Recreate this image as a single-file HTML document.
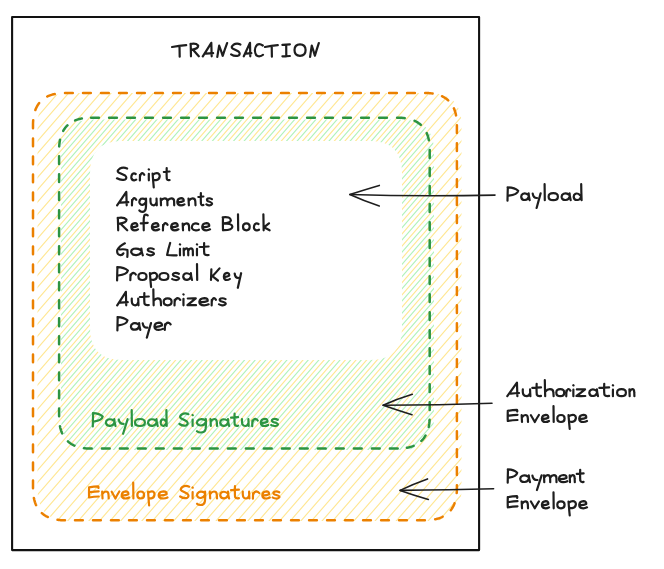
<!DOCTYPE html>
<html><head><meta charset="utf-8"><style>
html,body{margin:0;padding:0;background:#fff;}
svg{display:block;}
text{font-family:"Liberation Sans",sans-serif;font-size:20px;}
</style></head><body>
<svg width="664" height="569" viewBox="0 0 664 569">
<defs>
<clipPath id="co"><path d="M69.5 93 L429.5 93 Q461.5 93 461.5 125 L461.5 489 Q461.5 521 429.5 521 L69.5 521 Q37.5 521 37.5 489 L37.5 125 Q37.5 93 69.5 93Z"/></clipPath>
<clipPath id="cg"><path d="M93 119.5 L402 119.5 Q434 119.5 434 151.5 L434 418.0 Q434 450.0 402 450.0 L93 450.0 Q61 450.0 61 418.0 L61 151.5 Q61 119.5 93 119.5Z"/></clipPath>
</defs>
<rect width="664" height="569" fill="#fff"/>
<path d="M-1251.10 1562.46L1373.14 -1456.38M-1245.06 1567.71L1379.17 -1451.13M-1239.02 1572.96L1385.21 -1445.88M-1232.99 1578.21L1391.25 -1440.63M-1226.95 1583.46L1397.29 -1435.38M-1220.91 1588.70L1403.32 -1430.13M-1214.87 1593.95L1409.36 -1424.89M-1208.84 1599.20L1415.40 -1419.64M-1202.80 1604.45L1421.44 -1414.39M-1196.76 1609.70L1427.48 -1409.14M-1190.72 1614.95L1433.51 -1403.89M-1184.69 1620.19L1439.55 -1398.64M-1178.65 1625.44L1445.59 -1393.40M-1172.61 1630.69L1451.63 -1388.15M-1166.57 1635.94L1457.66 -1382.90M-1160.53 1641.19L1463.70 -1377.65M-1154.50 1646.44L1469.74 -1372.40M-1148.46 1651.69L1475.78 -1367.15M-1142.42 1656.93L1481.81 -1361.90M-1136.38 1662.18L1487.85 -1356.66M-1130.35 1667.43L1493.89 -1351.41M-1124.31 1672.68L1499.93 -1346.16M-1118.27 1677.93L1505.97 -1340.91M-1112.23 1683.18L1512.00 -1335.66M-1106.20 1688.42L1518.04 -1330.41M-1100.16 1693.67L1524.08 -1325.16M-1094.12 1698.92L1530.12 -1319.92M-1088.08 1704.17L1536.15 -1314.67M-1082.04 1709.42L1542.19 -1309.42M-1076.01 1714.67L1548.23 -1304.17M-1069.97 1719.92L1554.27 -1298.92M-1063.93 1725.16L1560.30 -1293.67M-1057.89 1730.41L1566.34 -1288.43M-1051.86 1735.66L1572.38 -1283.18M-1045.82 1740.91L1578.42 -1277.93M-1039.78 1746.16L1584.46 -1272.68M-1033.74 1751.41L1590.49 -1267.43M-1027.71 1756.66L1596.53 -1262.18M-1021.67 1761.90L1602.57 -1256.93M-1015.63 1767.15L1608.61 -1251.69M-1009.59 1772.40L1614.64 -1246.44M-1003.56 1777.65L1620.68 -1241.19M-997.52 1782.90L1626.72 -1235.94M-991.48 1788.15L1632.76 -1230.69M-985.44 1793.39L1638.79 -1225.44M-979.40 1798.64L1644.83 -1220.20M-973.37 1803.89L1650.87 -1214.95M-967.33 1809.14L1656.91 -1209.70M-961.29 1814.39L1662.94 -1204.45M-955.25 1819.64L1668.98 -1199.20M-949.22 1824.89L1675.02 -1193.95M-943.18 1830.13L1681.06 -1188.70M-937.14 1835.38L1687.10 -1183.46M-931.10 1840.63L1693.13 -1178.21M-925.07 1845.88L1699.17 -1172.96M-919.03 1851.13L1705.21 -1167.71M-912.99 1856.38L1711.25 -1162.46M-906.95 1861.62L1717.28 -1157.21M-900.91 1866.87L1723.32 -1151.97M-894.88 1872.12L1729.36 -1146.72M-888.84 1877.37L1735.40 -1141.47M-882.80 1882.62L1741.43 -1136.22M-876.76 1887.87L1747.47 -1130.97M-870.73 1893.12L1753.51 -1125.72M-864.69 1898.36L1759.55 -1120.47M-858.65 1903.61L1765.59 -1115.23M-852.61 1908.86L1771.62 -1109.98M-846.58 1914.11L1777.66 -1104.73M-840.54 1919.36L1783.70 -1099.48M-834.50 1924.61L1789.74 -1094.23M-828.46 1929.85L1795.77 -1088.98M-822.42 1935.10L1801.81 -1083.74M-816.39 1940.35L1807.85 -1078.49M-810.35 1945.60L1813.89 -1073.24M-804.31 1950.85L1819.92 -1067.99M-798.27 1956.10L1825.96 -1062.74M-792.24 1961.35L1832.00 -1057.49M-786.20 1966.59L1838.04 -1052.24" clip-path="url(#co)" stroke="#ffe794" stroke-width="1.15" fill="none"/>
<path d="M-1223.97 1586.05L1400.27 -1432.79M-1217.93 1591.30L1406.31 -1427.54M-1211.89 1596.54L1412.34 -1422.29M-1205.85 1601.79L1418.38 -1417.05M-1199.82 1607.04L1424.42 -1411.80M-1193.78 1612.29L1430.46 -1406.55M-1187.74 1617.54L1436.49 -1401.30M-1181.70 1622.79L1442.53 -1396.05M-1175.67 1628.03L1448.57 -1390.80M-1169.63 1633.28L1454.61 -1385.56M-1163.59 1638.53L1460.64 -1380.31M-1157.55 1643.78L1466.68 -1375.06M-1151.52 1649.03L1472.72 -1369.81M-1145.48 1654.28L1478.76 -1364.56M-1139.44 1659.53L1484.80 -1359.31M-1133.40 1664.77L1490.83 -1354.06M-1127.37 1670.02L1496.87 -1348.82M-1121.33 1675.27L1502.91 -1343.57M-1115.29 1680.52L1508.95 -1338.32M-1109.25 1685.77L1514.98 -1333.07M-1103.21 1691.02L1521.02 -1327.82M-1097.18 1696.26L1527.06 -1322.57M-1091.14 1701.51L1533.10 -1317.33M-1085.10 1706.76L1539.13 -1312.08M-1079.06 1712.01L1545.17 -1306.83M-1073.03 1717.26L1551.21 -1301.58M-1066.99 1722.51L1557.25 -1296.33M-1060.95 1727.76L1563.29 -1291.08M-1054.91 1733.00L1569.32 -1285.83M-1048.88 1738.25L1575.36 -1280.59M-1042.84 1743.50L1581.40 -1275.34M-1036.80 1748.75L1587.44 -1270.09M-1030.76 1754.00L1593.47 -1264.84M-1024.72 1759.25L1599.51 -1259.59M-1018.69 1764.49L1605.55 -1254.34M-1012.65 1769.74L1611.59 -1249.09M-1006.61 1774.99L1617.62 -1243.85M-1000.57 1780.24L1623.66 -1238.60M-994.54 1785.49L1629.70 -1233.35M-988.50 1790.74L1635.74 -1228.10M-982.46 1795.99L1641.78 -1222.85M-976.42 1801.23L1647.81 -1217.60M-970.39 1806.48L1653.85 -1212.36M-964.35 1811.73L1659.89 -1207.11M-958.31 1816.98L1665.93 -1201.86M-952.27 1822.23L1671.96 -1196.61M-946.23 1827.48L1678.00 -1191.36M-940.20 1832.73L1684.04 -1186.11M-934.16 1837.97L1690.08 -1180.86M-928.12 1843.22L1696.11 -1175.62M-922.08 1848.47L1702.15 -1170.37M-916.05 1853.72L1708.19 -1165.12M-910.01 1858.97L1714.23 -1159.87M-903.97 1864.22L1720.26 -1154.62M-897.93 1869.46L1726.30 -1149.37M-891.90 1874.71L1732.34 -1144.13M-885.86 1879.96L1738.38 -1138.88M-879.82 1885.21L1744.42 -1133.63M-873.78 1890.46L1750.45 -1128.38M-867.75 1895.71L1756.49 -1123.13M-861.71 1900.96L1762.53 -1117.88M-855.67 1906.20L1768.57 -1112.63M-849.63 1911.45L1774.60 -1107.39M-843.59 1916.70L1780.64 -1102.14M-837.56 1921.95L1786.68 -1096.89M-831.52 1927.20L1792.72 -1091.64" clip-path="url(#cg)" stroke="#b2f2bb" stroke-width="1.15" fill="none"/>
<path d="M122 141 L370 141 Q402 141 402 173 L402 328 Q402 360 370 360 L122 360 Q90 360 90 328 L90 173 Q90 141 122 141Z" fill="#fff"/>
<path d="M65.00 93.00 L65.60 93.00 L66.20 93.00 L66.80 93.00 L67.40 93.00 L68.00 93.00 L68.60 93.00 L69.20 93.00 L69.80 93.00 L70.40 93.00 L71.00 93.00 L71.60 93.00 L72.20 93.00 L72.80 93.00 L72.80 93.00M83.01 93.00 L83.61 93.00 L84.21 93.00 L84.81 93.00 L85.41 93.00 L86.01 93.00 L86.61 93.00 L87.21 93.00 L87.81 93.00 L88.41 93.00 L89.01 93.00 L89.61 93.00 L90.21 93.00 L90.81 93.00 L90.81 93.00M101.01 93.00 L101.61 93.00 L102.21 93.00 L102.81 93.00 L103.41 93.00 L104.01 93.00 L104.61 93.00 L105.21 93.00 L105.81 93.00 L106.41 93.00 L107.01 93.00 L107.61 93.00 L108.21 93.00 L108.81 93.00 L108.81 93.00M119.02 93.00 L119.62 93.00 L120.22 93.00 L120.82 93.00 L121.42 93.00 L122.02 93.00 L122.62 93.00 L123.22 93.00 L123.82 93.00 L124.42 93.00 L125.02 93.00 L125.62 93.00 L126.22 93.00 L126.82 93.00 L126.82 93.00M137.02 93.00 L137.62 93.00 L138.22 93.00 L138.82 93.00 L139.42 93.00 L140.02 93.00 L140.62 93.00 L141.22 93.00 L141.82 93.00 L142.42 93.00 L143.02 93.00 L143.62 93.00 L144.22 93.00 L144.82 93.00 L144.82 93.00M155.03 93.00 L155.63 93.00 L156.23 93.00 L156.83 93.00 L157.43 93.00 L158.03 93.00 L158.63 93.00 L159.23 93.00 L159.83 93.00 L160.43 93.00 L161.03 93.00 L161.63 93.00 L162.23 93.00 L162.83 93.00 L162.83 93.00M173.03 93.00 L173.63 93.00 L174.23 93.00 L174.83 93.00 L175.43 93.00 L176.03 93.00 L176.63 93.00 L177.23 93.00 L177.83 93.00 L178.43 93.00 L179.03 93.00 L179.63 93.00 L180.23 93.00 L180.83 93.00 L180.83 93.00M191.04 93.00 L191.64 93.00 L192.24 93.00 L192.84 93.00 L193.44 93.00 L194.04 93.00 L194.64 93.00 L195.24 93.00 L195.84 93.00 L196.44 93.00 L197.04 93.00 L197.64 93.00 L198.24 93.00 L198.84 93.00 L198.84 93.00M209.04 93.00 L209.64 93.00 L210.24 93.00 L210.84 93.00 L211.44 93.00 L212.04 93.00 L212.64 93.00 L213.24 93.00 L213.84 93.00 L214.44 93.00 L215.04 93.00 L215.64 93.00 L216.24 93.00 L216.84 93.00 L216.84 93.00M227.05 93.00 L227.65 93.00 L228.25 93.00 L228.85 93.00 L229.45 93.00 L230.05 93.00 L230.65 93.00 L231.25 93.00 L231.85 93.00 L232.45 93.00 L233.05 93.00 L233.65 93.00 L234.25 93.00 L234.85 93.00 L234.85 93.00M245.05 93.00 L245.65 93.00 L246.25 93.00 L246.85 93.00 L247.45 93.00 L248.05 93.00 L248.65 93.00 L249.25 93.00 L249.85 93.00 L250.45 93.00 L251.05 93.00 L251.65 93.00 L252.25 93.00 L252.85 93.00 L252.85 93.00M263.06 93.00 L263.66 93.00 L264.26 93.00 L264.86 93.00 L265.46 93.00 L266.06 93.00 L266.66 93.00 L267.26 93.00 L267.86 93.00 L268.46 93.00 L269.06 93.00 L269.66 93.00 L270.26 93.00 L270.86 93.00 L270.86 93.00M281.06 93.00 L281.66 93.00 L282.26 93.00 L282.86 93.00 L283.46 93.00 L284.06 93.00 L284.66 93.00 L285.26 93.00 L285.86 93.00 L286.46 93.00 L287.06 93.00 L287.66 93.00 L288.26 93.00 L288.86 93.00 L288.86 93.00M299.07 93.00 L299.67 93.00 L300.27 93.00 L300.87 93.00 L301.47 93.00 L302.07 93.00 L302.67 93.00 L303.27 93.00 L303.87 93.00 L304.47 93.00 L305.07 93.00 L305.67 93.00 L306.27 93.00 L306.87 93.00 L306.87 93.00M317.07 93.00 L317.67 93.00 L318.27 93.00 L318.87 93.00 L319.47 93.00 L320.07 93.00 L320.67 93.00 L321.27 93.00 L321.87 93.00 L322.47 93.00 L323.07 93.00 L323.67 93.00 L324.27 93.00 L324.87 93.00 L324.87 93.00M335.08 93.00 L335.68 93.00 L336.28 93.00 L336.88 93.00 L337.48 93.00 L338.08 93.00 L338.68 93.00 L339.28 93.00 L339.88 93.00 L340.48 93.00 L341.08 93.00 L341.68 93.00 L342.28 93.00 L342.88 93.00 L342.88 93.00M353.08 93.00 L353.68 93.00 L354.28 93.00 L354.88 93.00 L355.48 93.00 L356.08 93.00 L356.68 93.00 L357.28 93.00 L357.88 93.00 L358.48 93.00 L359.08 93.00 L359.68 93.00 L360.28 93.00 L360.88 93.00 L360.88 93.00M371.09 93.00 L371.69 93.00 L372.29 93.00 L372.89 93.00 L373.49 93.00 L374.09 93.00 L374.69 93.00 L375.29 93.00 L375.89 93.00 L376.49 93.00 L377.09 93.00 L377.69 93.00 L378.29 93.00 L378.89 93.00 L378.89 93.00M389.09 93.00 L389.69 93.00 L390.29 93.00 L390.89 93.00 L391.49 93.00 L392.09 93.00 L392.69 93.00 L393.29 93.00 L393.89 93.00 L394.49 93.00 L395.09 93.00 L395.69 93.00 L396.29 93.00 L396.89 93.00 L396.89 93.00M407.10 93.00 L407.70 93.00 L408.30 93.00 L408.90 93.00 L409.50 93.00 L410.10 93.00 L410.70 93.00 L411.30 93.00 L411.90 93.00 L412.50 93.00 L413.10 93.00 L413.70 93.00 L414.30 93.00 L414.90 93.00 L414.90 93.00M425.15 93.00 L425.89 93.01 L426.62 93.03 L427.35 93.05 L428.07 93.08 L428.77 93.12 L429.47 93.18 L430.16 93.24 L430.84 93.31 L431.52 93.38 L432.18 93.47 L432.62 93.53M442.00 96.23 L442.68 96.56 L443.33 96.90 L443.98 97.26 L444.61 97.63 L445.22 98.02 L445.81 98.42 L446.39 98.84 L446.96 99.27 L447.51 99.72 L448.04 100.19 L448.22 100.35M453.88 108.36 L454.18 109.06 L454.46 109.77 L454.73 110.51 L454.98 111.25 L455.20 111.95 L455.37 112.53 L455.53 113.12 L455.68 113.72 L455.82 114.33 L455.95 114.95 L456.04 115.36M456.90 125.20 L456.90 125.80 L456.90 126.40 L456.90 127.00 L456.90 127.60 L456.90 128.20 L456.90 128.80 L456.90 129.40 L456.90 130.00 L456.90 130.60 L456.90 131.20 L456.90 131.80 L456.90 132.40 L456.90 133.00 L456.90 133.00M456.90 143.21 L456.90 143.81 L456.90 144.41 L456.90 145.01 L456.90 145.61 L456.90 146.21 L456.90 146.81 L456.90 147.41 L456.90 148.01 L456.90 148.61 L456.90 149.21 L456.90 149.81 L456.90 150.41 L456.90 151.01 L456.90 151.01M456.90 161.21 L456.90 161.81 L456.90 162.41 L456.90 163.01 L456.90 163.61 L456.90 164.21 L456.90 164.81 L456.90 165.41 L456.90 166.01 L456.90 166.61 L456.90 167.21 L456.90 167.81 L456.90 168.41 L456.90 169.01 L456.90 169.01M456.90 179.21 L456.90 179.82 L456.90 180.42 L456.90 181.02 L456.90 181.62 L456.90 182.22 L456.90 182.82 L456.90 183.42 L456.90 184.02 L456.90 184.62 L456.90 185.22 L456.90 185.82 L456.90 186.42 L456.90 187.02 L456.90 187.02M456.90 197.22 L456.90 197.82 L456.90 198.42 L456.90 199.02 L456.90 199.62 L456.90 200.22 L456.90 200.82 L456.90 201.42 L456.90 202.02 L456.90 202.62 L456.90 203.22 L456.90 203.82 L456.90 204.42 L456.90 205.02 L456.90 205.02M456.90 215.22 L456.90 215.82 L456.90 216.43 L456.90 217.03 L456.90 217.63 L456.90 218.23 L456.90 218.83 L456.90 219.43 L456.90 220.03 L456.90 220.63 L456.90 221.23 L456.90 221.83 L456.90 222.43 L456.90 223.03 L456.90 223.03M456.90 233.23 L456.90 233.83 L456.90 234.43 L456.90 235.03 L456.90 235.63 L456.90 236.23 L456.90 236.83 L456.90 237.43 L456.90 238.03 L456.90 238.63 L456.90 239.23 L456.90 239.83 L456.90 240.43 L456.90 241.03 L456.90 241.03M456.90 251.23 L456.90 251.83 L456.90 252.44 L456.90 253.04 L456.90 253.64 L456.90 254.24 L456.90 254.84 L456.90 255.44 L456.90 256.04 L456.90 256.64 L456.90 257.24 L456.90 257.84 L456.90 258.44 L456.90 259.04 L456.90 259.04M456.90 269.24 L456.90 269.84 L456.90 270.44 L456.90 271.04 L456.90 271.64 L456.90 272.24 L456.90 272.84 L456.90 273.44 L456.90 274.04 L456.90 274.64 L456.90 275.24 L456.90 275.84 L456.90 276.44 L456.90 277.04 L456.90 277.04M456.90 287.24 L456.90 287.84 L456.90 288.44 L456.90 289.05 L456.90 289.65 L456.90 290.25 L456.90 290.85 L456.90 291.45 L456.90 292.05 L456.90 292.65 L456.90 293.25 L456.90 293.85 L456.90 294.45 L456.90 295.05 L456.90 295.05M456.90 305.25 L456.90 305.85 L456.90 306.45 L456.90 307.05 L456.90 307.65 L456.90 308.25 L456.90 308.85 L456.90 309.45 L456.90 310.05 L456.90 310.65 L456.90 311.25 L456.90 311.85 L456.90 312.45 L456.90 313.05 L456.90 313.05M456.90 323.25 L456.90 323.85 L456.90 324.45 L456.90 325.06 L456.90 325.66 L456.90 326.26 L456.90 326.86 L456.90 327.46 L456.90 328.06 L456.90 328.66 L456.90 329.26 L456.90 329.86 L456.90 330.46 L456.90 331.06 L456.90 331.06M456.90 341.26 L456.90 341.86 L456.90 342.46 L456.90 343.06 L456.90 343.66 L456.90 344.26 L456.90 344.86 L456.90 345.46 L456.90 346.06 L456.90 346.66 L456.90 347.26 L456.90 347.86 L456.90 348.46 L456.90 349.06 L456.90 349.06M456.90 359.26 L456.90 359.86 L456.90 360.46 L456.90 361.06 L456.90 361.67 L456.90 362.27 L456.90 362.87 L456.90 363.47 L456.90 364.07 L456.90 364.67 L456.90 365.27 L456.90 365.87 L456.90 366.47 L456.90 367.07 L456.90 367.07M456.90 377.27 L456.90 377.87 L456.90 378.47 L456.90 379.07 L456.90 379.67 L456.90 380.27 L456.90 380.87 L456.90 381.47 L456.90 382.07 L456.90 382.67 L456.90 383.27 L456.90 383.87 L456.90 384.47 L456.90 385.07 L456.90 385.07M456.90 395.27 L456.90 395.87 L456.90 396.47 L456.90 397.07 L456.90 397.68 L456.90 398.28 L456.90 398.88 L456.90 399.48 L456.90 400.08 L456.90 400.68 L456.90 401.28 L456.90 401.88 L456.90 402.48 L456.90 403.08 L456.90 403.08M456.90 413.28 L456.90 413.88 L456.90 414.48 L456.90 415.08 L456.90 415.68 L456.90 416.28 L456.90 416.88 L456.90 417.48 L456.90 418.08 L456.90 418.68 L456.90 419.28 L456.90 419.88 L456.90 420.48 L456.90 421.08 L456.90 421.08M456.90 431.28 L456.90 431.88 L456.90 432.48 L456.90 433.08 L456.90 433.68 L456.90 434.29 L456.90 434.89 L456.90 435.49 L456.90 436.09 L456.90 436.69 L456.90 437.29 L456.90 437.89 L456.90 438.49 L456.90 439.09 L456.90 439.09M456.90 449.29 L456.90 449.89 L456.90 450.49 L456.90 451.09 L456.90 451.69 L456.90 452.29 L456.90 452.89 L456.90 453.49 L456.90 454.09 L456.90 454.69 L456.90 455.29 L456.90 455.89 L456.90 456.49 L456.90 457.09 L456.90 457.09M456.90 467.29 L456.90 467.89 L456.90 468.49 L456.90 469.09 L456.90 469.69 L456.90 470.30 L456.90 470.90 L456.90 471.50 L456.90 472.10 L456.90 472.70 L456.90 473.30 L456.90 473.90 L456.90 474.50 L456.90 475.10 L456.90 475.10M456.90 485.30 L456.90 485.90 L456.90 486.50 L456.90 487.10 L456.90 487.70 L456.90 488.30 L456.89 489.04 L456.88 489.78 L456.86 490.51 L456.83 491.23 L456.79 491.94 L456.74 492.64 L456.70 493.10M454.55 503.28 L454.27 504.01 L453.98 504.71 L453.67 505.40 L453.34 506.08 L453.00 506.73 L452.64 507.38 L452.27 508.01 L451.88 508.62 L451.48 509.21 L451.06 509.79 L450.77 510.17M442.68 516.74 L442.00 517.07 L441.31 517.38 L440.61 517.67 L439.88 517.95 L439.15 518.21 L438.39 518.46 L437.76 518.66 L437.17 518.82 L436.58 518.98 L435.98 519.13 L435.36 519.26 L435.16 519.31M424.90 520.30 L424.30 520.30 L423.70 520.30 L423.10 520.30 L422.50 520.30 L421.90 520.30 L421.30 520.30 L420.70 520.30 L420.10 520.30 L419.50 520.30 L418.90 520.30 L418.30 520.30 L417.70 520.30 L417.10 520.30 L417.10 520.30M406.89 520.30 L406.29 520.30 L405.69 520.30 L405.09 520.30 L404.49 520.30 L403.89 520.30 L403.29 520.30 L402.69 520.30 L402.09 520.30 L401.49 520.30 L400.89 520.30 L400.29 520.30 L399.69 520.30 L399.09 520.30 L399.09 520.30M388.89 520.30 L388.29 520.30 L387.69 520.30 L387.09 520.30 L386.49 520.30 L385.89 520.30 L385.29 520.30 L384.69 520.30 L384.09 520.30 L383.49 520.30 L382.89 520.30 L382.29 520.30 L381.69 520.30 L381.09 520.30 L381.09 520.30M370.88 520.30 L370.28 520.30 L369.68 520.30 L369.08 520.30 L368.48 520.30 L367.88 520.30 L367.28 520.30 L366.68 520.30 L366.08 520.30 L365.48 520.30 L364.88 520.30 L364.28 520.30 L363.68 520.30 L363.08 520.30 L363.08 520.30M352.88 520.30 L352.28 520.30 L351.68 520.30 L351.08 520.30 L350.48 520.30 L349.88 520.30 L349.28 520.30 L348.68 520.30 L348.08 520.30 L347.48 520.30 L346.88 520.30 L346.28 520.30 L345.68 520.30 L345.08 520.30 L345.08 520.30M334.87 520.30 L334.27 520.30 L333.67 520.30 L333.07 520.30 L332.47 520.30 L331.87 520.30 L331.27 520.30 L330.67 520.30 L330.07 520.30 L329.47 520.30 L328.87 520.30 L328.27 520.30 L327.67 520.30 L327.07 520.30 L327.07 520.30M316.87 520.30 L316.27 520.30 L315.67 520.30 L315.07 520.30 L314.47 520.30 L313.87 520.30 L313.27 520.30 L312.67 520.30 L312.07 520.30 L311.47 520.30 L310.87 520.30 L310.27 520.30 L309.67 520.30 L309.07 520.30 L309.07 520.30M298.86 520.30 L298.26 520.30 L297.66 520.30 L297.06 520.30 L296.46 520.30 L295.86 520.30 L295.26 520.30 L294.66 520.30 L294.06 520.30 L293.46 520.30 L292.86 520.30 L292.26 520.30 L291.66 520.30 L291.06 520.30 L291.06 520.30M280.86 520.30 L280.26 520.30 L279.66 520.30 L279.06 520.30 L278.46 520.30 L277.86 520.30 L277.26 520.30 L276.66 520.30 L276.06 520.30 L275.46 520.30 L274.86 520.30 L274.26 520.30 L273.66 520.30 L273.06 520.30 L273.06 520.30M262.85 520.30 L262.25 520.30 L261.65 520.30 L261.05 520.30 L260.45 520.30 L259.85 520.30 L259.25 520.30 L258.65 520.30 L258.05 520.30 L257.45 520.30 L256.85 520.30 L256.25 520.30 L255.65 520.30 L255.05 520.30 L255.05 520.30M244.85 520.30 L244.25 520.30 L243.65 520.30 L243.05 520.30 L242.45 520.30 L241.85 520.30 L241.25 520.30 L240.65 520.30 L240.05 520.30 L239.45 520.30 L238.85 520.30 L238.25 520.30 L237.65 520.30 L237.05 520.30 L237.05 520.30M226.84 520.30 L226.24 520.30 L225.64 520.30 L225.04 520.30 L224.44 520.30 L223.84 520.30 L223.24 520.30 L222.64 520.30 L222.04 520.30 L221.44 520.30 L220.84 520.30 L220.24 520.30 L219.64 520.30 L219.04 520.30 L219.04 520.30M208.84 520.30 L208.24 520.30 L207.64 520.30 L207.04 520.30 L206.44 520.30 L205.84 520.30 L205.24 520.30 L204.64 520.30 L204.04 520.30 L203.44 520.30 L202.84 520.30 L202.24 520.30 L201.64 520.30 L201.04 520.30 L201.04 520.30M190.83 520.30 L190.23 520.30 L189.63 520.30 L189.03 520.30 L188.43 520.30 L187.83 520.30 L187.23 520.30 L186.63 520.30 L186.03 520.30 L185.43 520.30 L184.83 520.30 L184.23 520.30 L183.63 520.30 L183.03 520.30 L183.03 520.30M172.83 520.30 L172.23 520.30 L171.63 520.30 L171.03 520.30 L170.43 520.30 L169.83 520.30 L169.23 520.30 L168.63 520.30 L168.03 520.30 L167.43 520.30 L166.83 520.30 L166.23 520.30 L165.63 520.30 L165.03 520.30 L165.03 520.30M154.82 520.30 L154.22 520.30 L153.62 520.30 L153.02 520.30 L152.42 520.30 L151.82 520.30 L151.22 520.30 L150.62 520.30 L150.02 520.30 L149.42 520.30 L148.82 520.30 L148.22 520.30 L147.62 520.30 L147.02 520.30 L147.02 520.30M136.82 520.30 L136.22 520.30 L135.62 520.30 L135.02 520.30 L134.42 520.30 L133.82 520.30 L133.22 520.30 L132.62 520.30 L132.02 520.30 L131.42 520.30 L130.82 520.30 L130.22 520.30 L129.62 520.30 L129.02 520.30 L129.02 520.30M118.81 520.30 L118.21 520.30 L117.61 520.30 L117.01 520.30 L116.41 520.30 L115.81 520.30 L115.21 520.30 L114.61 520.30 L114.01 520.30 L113.41 520.30 L112.81 520.30 L112.21 520.30 L111.61 520.30 L111.01 520.30 L111.01 520.30M100.81 520.30 L100.21 520.30 L99.61 520.30 L99.01 520.30 L98.41 520.30 L97.81 520.30 L97.21 520.30 L96.61 520.30 L96.01 520.30 L95.41 520.30 L94.81 520.30 L94.21 520.30 L93.61 520.30 L93.01 520.30 L93.01 520.30M82.80 520.30 L82.20 520.30 L81.60 520.30 L81.00 520.30 L80.40 520.30 L79.80 520.30 L79.20 520.30 L78.60 520.30 L78.00 520.30 L77.40 520.30 L76.80 520.30 L76.20 520.30 L75.60 520.30 L75.00 520.30 L75.00 520.30M65.00 520.30 L64.26 520.29 L63.52 520.28 L62.79 520.26 L62.07 520.23 L61.36 520.19 L60.66 520.14 L59.97 520.08 L59.28 520.02 L58.61 519.94 L57.94 519.86 L57.50 519.80M47.90 517.07 L47.22 516.74 L46.57 516.40 L45.92 516.04 L45.29 515.67 L44.68 515.28 L44.09 514.88 L43.51 514.46 L42.94 514.03 L42.39 513.58 L41.86 513.11 L41.86 513.11M36.12 505.17 L35.82 504.48 L35.53 503.77 L35.26 503.04 L35.00 502.30 L34.76 501.54 L34.59 500.96 L34.43 500.37 L34.27 499.78 L34.12 499.17 L33.99 498.56 L33.86 497.94 L33.86 497.94M33.00 488.30 L33.00 487.70 L33.00 487.10 L33.00 486.50 L33.00 485.90 L33.00 485.30 L33.00 484.70 L33.00 484.10 L33.00 483.50 L33.00 482.90 L33.00 482.30 L33.00 481.70 L33.00 481.10 L33.00 480.50 L33.00 480.50M33.00 470.30 L33.00 469.69 L33.00 469.09 L33.00 468.49 L33.00 467.89 L33.00 467.29 L33.00 466.69 L33.00 466.09 L33.00 465.49 L33.00 464.89 L33.00 464.29 L33.00 463.69 L33.00 463.09 L33.00 462.49 L33.00 462.49M33.00 452.29 L33.00 451.69 L33.00 451.09 L33.00 450.49 L33.00 449.89 L33.00 449.29 L33.00 448.69 L33.00 448.09 L33.00 447.49 L33.00 446.89 L33.00 446.29 L33.00 445.69 L33.00 445.09 L33.00 444.49 L33.00 444.49M33.00 434.29 L33.00 433.68 L33.00 433.08 L33.00 432.48 L33.00 431.88 L33.00 431.28 L33.00 430.68 L33.00 430.08 L33.00 429.48 L33.00 428.88 L33.00 428.28 L33.00 427.68 L33.00 427.08 L33.00 426.48 L33.00 426.48M33.00 416.28 L33.00 415.68 L33.00 415.08 L33.00 414.48 L33.00 413.88 L33.00 413.28 L33.00 412.68 L33.00 412.08 L33.00 411.48 L33.00 410.88 L33.00 410.28 L33.00 409.68 L33.00 409.08 L33.00 408.48 L33.00 408.48M33.00 398.28 L33.00 397.68 L33.00 397.07 L33.00 396.47 L33.00 395.87 L33.00 395.27 L33.00 394.67 L33.00 394.07 L33.00 393.47 L33.00 392.87 L33.00 392.27 L33.00 391.67 L33.00 391.07 L33.00 390.47 L33.00 390.47M33.00 380.27 L33.00 379.67 L33.00 379.07 L33.00 378.47 L33.00 377.87 L33.00 377.27 L33.00 376.67 L33.00 376.07 L33.00 375.47 L33.00 374.87 L33.00 374.27 L33.00 373.67 L33.00 373.07 L33.00 372.47 L33.00 372.47M33.00 362.27 L33.00 361.67 L33.00 361.06 L33.00 360.46 L33.00 359.86 L33.00 359.26 L33.00 358.66 L33.00 358.06 L33.00 357.46 L33.00 356.86 L33.00 356.26 L33.00 355.66 L33.00 355.06 L33.00 354.46 L33.00 354.46M33.00 344.26 L33.00 343.66 L33.00 343.06 L33.00 342.46 L33.00 341.86 L33.00 341.26 L33.00 340.66 L33.00 340.06 L33.00 339.46 L33.00 338.86 L33.00 338.26 L33.00 337.66 L33.00 337.06 L33.00 336.46 L33.00 336.46M33.00 326.26 L33.00 325.66 L33.00 325.06 L33.00 324.45 L33.00 323.85 L33.00 323.25 L33.00 322.65 L33.00 322.05 L33.00 321.45 L33.00 320.85 L33.00 320.25 L33.00 319.65 L33.00 319.05 L33.00 318.45 L33.00 318.45M33.00 308.25 L33.00 307.65 L33.00 307.05 L33.00 306.45 L33.00 305.85 L33.00 305.25 L33.00 304.65 L33.00 304.05 L33.00 303.45 L33.00 302.85 L33.00 302.25 L33.00 301.65 L33.00 301.05 L33.00 300.45 L33.00 300.45M33.00 290.25 L33.00 289.65 L33.00 289.05 L33.00 288.44 L33.00 287.84 L33.00 287.24 L33.00 286.64 L33.00 286.04 L33.00 285.44 L33.00 284.84 L33.00 284.24 L33.00 283.64 L33.00 283.04 L33.00 282.44 L33.00 282.44M33.00 272.24 L33.00 271.64 L33.00 271.04 L33.00 270.44 L33.00 269.84 L33.00 269.24 L33.00 268.64 L33.00 268.04 L33.00 267.44 L33.00 266.84 L33.00 266.24 L33.00 265.64 L33.00 265.04 L33.00 264.44 L33.00 264.44M33.00 254.24 L33.00 253.64 L33.00 253.04 L33.00 252.44 L33.00 251.83 L33.00 251.23 L33.00 250.63 L33.00 250.03 L33.00 249.43 L33.00 248.83 L33.00 248.23 L33.00 247.63 L33.00 247.03 L33.00 246.43 L33.00 246.43M33.00 236.23 L33.00 235.63 L33.00 235.03 L33.00 234.43 L33.00 233.83 L33.00 233.23 L33.00 232.63 L33.00 232.03 L33.00 231.43 L33.00 230.83 L33.00 230.23 L33.00 229.63 L33.00 229.03 L33.00 228.43 L33.00 228.43M33.00 218.23 L33.00 217.63 L33.00 217.03 L33.00 216.43 L33.00 215.82 L33.00 215.22 L33.00 214.62 L33.00 214.02 L33.00 213.42 L33.00 212.82 L33.00 212.22 L33.00 211.62 L33.00 211.02 L33.00 210.42 L33.00 210.42M33.00 200.22 L33.00 199.62 L33.00 199.02 L33.00 198.42 L33.00 197.82 L33.00 197.22 L33.00 196.62 L33.00 196.02 L33.00 195.42 L33.00 194.82 L33.00 194.22 L33.00 193.62 L33.00 193.02 L33.00 192.42 L33.00 192.42M33.00 182.22 L33.00 181.62 L33.00 181.02 L33.00 180.42 L33.00 179.82 L33.00 179.21 L33.00 178.61 L33.00 178.01 L33.00 177.41 L33.00 176.81 L33.00 176.21 L33.00 175.61 L33.00 175.01 L33.00 174.41 L33.00 174.41M33.00 164.21 L33.00 163.61 L33.00 163.01 L33.00 162.41 L33.00 161.81 L33.00 161.21 L33.00 160.61 L33.00 160.01 L33.00 159.41 L33.00 158.81 L33.00 158.21 L33.00 157.61 L33.00 157.01 L33.00 156.41 L33.00 156.41M33.00 146.21 L33.00 145.61 L33.00 145.01 L33.00 144.41 L33.00 143.81 L33.00 143.21 L33.00 142.60 L33.00 142.00 L33.00 141.40 L33.00 140.80 L33.00 140.20 L33.00 139.60 L33.00 139.00 L33.00 138.40 L33.00 138.40M33.00 128.20 L33.00 127.60 L33.00 127.00 L33.00 126.40 L33.00 125.80 L33.00 125.20 L33.00 124.50 L33.01 123.76 L33.03 123.03 L33.06 122.31 L33.10 121.60 L33.14 120.89 L33.20 120.20 L33.20 120.20M35.35 110.02 L35.63 109.29 L35.92 108.59 L36.23 107.90 L36.56 107.22 L36.90 106.57 L37.26 105.92 L37.63 105.29 L38.02 104.68 L38.42 104.09 L38.84 103.51 L39.12 103.12M47.22 96.56 L47.90 96.23 L48.59 95.92 L49.29 95.63 L50.02 95.35 L50.75 95.09 L51.51 94.84 L52.14 94.64 L52.73 94.48 L53.32 94.32 L53.92 94.17 L54.54 94.04 L54.74 93.99" fill="none" stroke="#eb8000" stroke-width="2.5" stroke-linecap="round" stroke-linejoin="round"/>
<path d="M91.10 117.70 L91.70 117.70 L92.30 117.70 L92.90 117.70 L93.50 117.70 L94.10 117.70 L94.70 117.70 L95.30 117.70 L95.90 117.70 L96.50 117.70 L97.10 117.70 L97.70 117.70 L98.30 117.70 L98.90 117.70 L98.90 117.70M109.10 117.70 L109.70 117.70 L110.30 117.70 L110.90 117.70 L111.50 117.70 L112.10 117.70 L112.70 117.70 L113.30 117.70 L113.90 117.70 L114.50 117.70 L115.10 117.70 L115.70 117.70 L116.30 117.70 L116.90 117.70 L116.90 117.70M127.10 117.70 L127.70 117.70 L128.30 117.70 L128.90 117.70 L129.50 117.70 L130.10 117.70 L130.70 117.70 L131.30 117.70 L131.90 117.70 L132.50 117.70 L133.10 117.70 L133.70 117.70 L134.30 117.70 L134.90 117.70 L134.90 117.70M145.10 117.70 L145.70 117.70 L146.30 117.70 L146.90 117.70 L147.50 117.70 L148.10 117.70 L148.70 117.70 L149.30 117.70 L149.90 117.70 L150.50 117.70 L151.10 117.70 L151.70 117.70 L152.30 117.70 L152.90 117.70 L152.90 117.70M163.10 117.70 L163.70 117.70 L164.30 117.70 L164.90 117.70 L165.50 117.70 L166.10 117.70 L166.70 117.70 L167.30 117.70 L167.90 117.70 L168.50 117.70 L169.10 117.70 L169.70 117.70 L170.30 117.70 L170.90 117.70 L170.90 117.70M181.10 117.70 L181.70 117.70 L182.30 117.70 L182.90 117.70 L183.50 117.70 L184.10 117.70 L184.70 117.70 L185.30 117.70 L185.90 117.70 L186.50 117.70 L187.10 117.70 L187.70 117.70 L188.30 117.70 L188.90 117.70 L188.90 117.70M199.10 117.70 L199.70 117.70 L200.30 117.70 L200.90 117.70 L201.50 117.70 L202.10 117.70 L202.70 117.70 L203.30 117.70 L203.90 117.70 L204.50 117.70 L205.10 117.70 L205.70 117.70 L206.30 117.70 L206.90 117.70 L206.90 117.70M217.10 117.70 L217.70 117.70 L218.30 117.70 L218.90 117.70 L219.50 117.70 L220.10 117.70 L220.70 117.70 L221.30 117.70 L221.90 117.70 L222.50 117.70 L223.10 117.70 L223.70 117.70 L224.30 117.70 L224.90 117.70 L224.90 117.70M235.10 117.70 L235.70 117.70 L236.30 117.70 L236.90 117.70 L237.50 117.70 L238.10 117.70 L238.70 117.70 L239.30 117.70 L239.90 117.70 L240.50 117.70 L241.10 117.70 L241.70 117.70 L242.30 117.70 L242.90 117.70 L242.90 117.70M253.10 117.70 L253.70 117.70 L254.30 117.70 L254.90 117.70 L255.50 117.70 L256.10 117.70 L256.70 117.70 L257.30 117.70 L257.90 117.70 L258.50 117.70 L259.10 117.70 L259.70 117.70 L260.30 117.70 L260.90 117.70 L260.90 117.70M271.10 117.70 L271.70 117.70 L272.30 117.70 L272.90 117.70 L273.50 117.70 L274.10 117.70 L274.70 117.70 L275.30 117.70 L275.90 117.70 L276.50 117.70 L277.10 117.70 L277.70 117.70 L278.30 117.70 L278.90 117.70 L278.90 117.70M289.10 117.70 L289.70 117.70 L290.30 117.70 L290.90 117.70 L291.50 117.70 L292.10 117.70 L292.70 117.70 L293.30 117.70 L293.90 117.70 L294.50 117.70 L295.10 117.70 L295.70 117.70 L296.30 117.70 L296.90 117.70 L296.90 117.70M307.10 117.70 L307.70 117.70 L308.30 117.70 L308.90 117.70 L309.50 117.70 L310.10 117.70 L310.70 117.70 L311.30 117.70 L311.90 117.70 L312.50 117.70 L313.10 117.70 L313.70 117.70 L314.30 117.70 L314.90 117.70 L314.90 117.70M325.10 117.70 L325.70 117.70 L326.30 117.70 L326.90 117.70 L327.50 117.70 L328.10 117.70 L328.70 117.70 L329.30 117.70 L329.90 117.70 L330.50 117.70 L331.10 117.70 L331.70 117.70 L332.30 117.70 L332.90 117.70 L332.90 117.70M343.10 117.70 L343.70 117.70 L344.30 117.70 L344.90 117.70 L345.50 117.70 L346.10 117.70 L346.70 117.70 L347.30 117.70 L347.90 117.70 L348.50 117.70 L349.10 117.70 L349.70 117.70 L350.30 117.70 L350.90 117.70 L350.90 117.70M361.10 117.70 L361.70 117.70 L362.30 117.70 L362.90 117.70 L363.50 117.70 L364.10 117.70 L364.70 117.70 L365.30 117.70 L365.90 117.70 L366.50 117.70 L367.10 117.70 L367.70 117.70 L368.30 117.70 L368.90 117.70 L368.90 117.70M379.10 117.70 L379.70 117.70 L380.30 117.70 L380.90 117.70 L381.50 117.70 L382.10 117.70 L382.70 117.70 L383.30 117.70 L383.90 117.70 L384.50 117.70 L385.10 117.70 L385.70 117.70 L386.30 117.70 L386.90 117.70 L386.90 117.70M397.10 117.70 L397.70 117.70 L398.44 117.71 L399.18 117.72 L399.91 117.74 L400.63 117.77 L401.34 117.81 L402.04 117.86 L402.73 117.92 L403.42 117.98 L404.09 118.06 L404.76 118.14 L404.76 118.14M414.58 120.83 L415.25 121.15 L415.92 121.48 L416.57 121.83 L417.20 122.20 L417.82 122.58 L418.42 122.98 L419.00 123.40 L419.58 123.83 L420.13 124.27 L420.67 124.73 L420.84 124.89M426.68 133.06 L426.98 133.76 L427.26 134.47 L427.53 135.21 L427.78 135.95 L428.00 136.65 L428.17 137.23 L428.33 137.82 L428.48 138.42 L428.62 139.03 L428.75 139.65 L428.88 140.27 L428.88 140.27M429.70 150.10 L429.70 150.70 L429.70 151.30 L429.70 151.90 L429.70 152.50 L429.70 153.10 L429.70 153.70 L429.70 154.30 L429.70 154.90 L429.70 155.50 L429.70 156.10 L429.70 156.70 L429.70 157.30 L429.70 157.90 L429.70 157.90M429.70 168.11 L429.70 168.71 L429.70 169.31 L429.70 169.91 L429.70 170.51 L429.70 171.11 L429.70 171.71 L429.70 172.31 L429.70 172.91 L429.70 173.51 L429.70 174.11 L429.70 174.71 L429.70 175.31 L429.70 175.91 L429.70 175.91M429.70 186.11 L429.70 186.71 L429.70 187.31 L429.70 187.91 L429.70 188.51 L429.70 189.11 L429.70 189.71 L429.70 190.32 L429.70 190.92 L429.70 191.52 L429.70 192.12 L429.70 192.72 L429.70 193.32 L429.70 193.92 L429.70 193.92M429.70 204.12 L429.70 204.72 L429.70 205.32 L429.70 205.92 L429.70 206.52 L429.70 207.12 L429.70 207.72 L429.70 208.32 L429.70 208.92 L429.70 209.52 L429.70 210.12 L429.70 210.72 L429.70 211.32 L429.70 211.92 L429.70 211.92M429.70 222.13 L429.70 222.73 L429.70 223.33 L429.70 223.93 L429.70 224.53 L429.70 225.13 L429.70 225.73 L429.70 226.33 L429.70 226.93 L429.70 227.53 L429.70 228.13 L429.70 228.73 L429.70 229.33 L429.70 229.93 L429.70 229.93M429.70 240.13 L429.70 240.73 L429.70 241.33 L429.70 241.93 L429.70 242.53 L429.70 243.14 L429.70 243.74 L429.70 244.34 L429.70 244.94 L429.70 245.54 L429.70 246.14 L429.70 246.74 L429.70 247.34 L429.70 247.94 L429.70 247.94M429.70 258.14 L429.70 258.74 L429.70 259.34 L429.70 259.94 L429.70 260.54 L429.70 261.14 L429.70 261.74 L429.70 262.34 L429.70 262.94 L429.70 263.54 L429.70 264.14 L429.70 264.74 L429.70 265.34 L429.70 265.94 L429.70 265.94M429.70 276.15 L429.70 276.75 L429.70 277.35 L429.70 277.95 L429.70 278.55 L429.70 279.15 L429.70 279.75 L429.70 280.35 L429.70 280.95 L429.70 281.55 L429.70 282.15 L429.70 282.75 L429.70 283.35 L429.70 283.95 L429.70 283.95M429.70 294.15 L429.70 294.75 L429.70 295.35 L429.70 295.95 L429.70 296.56 L429.70 297.16 L429.70 297.76 L429.70 298.36 L429.70 298.96 L429.70 299.56 L429.70 300.16 L429.70 300.76 L429.70 301.36 L429.70 301.96 L429.70 301.96M429.70 312.16 L429.70 312.76 L429.70 313.36 L429.70 313.96 L429.70 314.56 L429.70 315.16 L429.70 315.76 L429.70 316.36 L429.70 316.96 L429.70 317.56 L429.70 318.16 L429.70 318.76 L429.70 319.36 L429.70 319.96 L429.70 319.96M429.70 330.17 L429.70 330.77 L429.70 331.37 L429.70 331.97 L429.70 332.57 L429.70 333.17 L429.70 333.77 L429.70 334.37 L429.70 334.97 L429.70 335.57 L429.70 336.17 L429.70 336.77 L429.70 337.37 L429.70 337.97 L429.70 337.97M429.70 348.17 L429.70 348.77 L429.70 349.37 L429.70 349.98 L429.70 350.58 L429.70 351.18 L429.70 351.78 L429.70 352.38 L429.70 352.98 L429.70 353.58 L429.70 354.18 L429.70 354.78 L429.70 355.38 L429.70 355.98 L429.70 355.98M429.70 366.18 L429.70 366.78 L429.70 367.38 L429.70 367.98 L429.70 368.58 L429.70 369.18 L429.70 369.78 L429.70 370.38 L429.70 370.98 L429.70 371.58 L429.70 372.18 L429.70 372.78 L429.70 373.38 L429.70 373.98 L429.70 373.98M429.70 384.19 L429.70 384.79 L429.70 385.39 L429.70 385.99 L429.70 386.59 L429.70 387.19 L429.70 387.79 L429.70 388.39 L429.70 388.99 L429.70 389.59 L429.70 390.19 L429.70 390.79 L429.70 391.39 L429.70 391.99 L429.70 391.99M429.70 402.19 L429.70 402.79 L429.70 403.40 L429.70 404.00 L429.70 404.60 L429.70 405.20 L429.70 405.80 L429.70 406.40 L429.70 407.00 L429.70 407.60 L429.70 408.20 L429.70 408.80 L429.70 409.40 L429.70 410.00 L429.70 410.00M429.62 419.77 L429.58 420.47 L429.52 421.17 L429.46 421.86 L429.39 422.54 L429.32 423.22 L429.23 423.88 L429.13 424.53 L429.03 425.18 L428.92 425.82 L428.80 426.45 L428.71 426.86M425.57 435.47 L425.20 436.10 L424.82 436.72 L424.42 437.32 L424.00 437.90 L423.58 438.47 L423.13 439.03 L422.67 439.57 L422.19 440.09 L421.70 440.60 L421.36 440.93M413.64 445.88 L412.93 446.16 L412.19 446.43 L411.45 446.68 L410.75 446.90 L410.17 447.07 L409.58 447.23 L408.98 447.38 L408.37 447.52 L407.75 447.65 L407.13 447.78 L406.92 447.82M397.70 448.60 L397.10 448.60 L396.50 448.60 L395.90 448.60 L395.30 448.60 L394.70 448.60 L394.10 448.60 L393.50 448.60 L392.90 448.60 L392.30 448.60 L391.70 448.60 L391.10 448.60 L390.50 448.60 L389.90 448.60 L389.90 448.60M379.70 448.60 L379.10 448.60 L378.50 448.60 L377.90 448.60 L377.30 448.60 L376.70 448.60 L376.10 448.60 L375.50 448.60 L374.90 448.60 L374.30 448.60 L373.70 448.60 L373.10 448.60 L372.50 448.60 L371.90 448.60 L371.90 448.60M361.70 448.60 L361.10 448.60 L360.50 448.60 L359.90 448.60 L359.30 448.60 L358.70 448.60 L358.10 448.60 L357.50 448.60 L356.90 448.60 L356.30 448.60 L355.70 448.60 L355.10 448.60 L354.50 448.60 L353.90 448.60 L353.90 448.60M343.70 448.60 L343.10 448.60 L342.50 448.60 L341.90 448.60 L341.30 448.60 L340.70 448.60 L340.10 448.60 L339.50 448.60 L338.90 448.60 L338.30 448.60 L337.70 448.60 L337.10 448.60 L336.50 448.60 L335.90 448.60 L335.90 448.60M325.70 448.60 L325.10 448.60 L324.50 448.60 L323.90 448.60 L323.30 448.60 L322.70 448.60 L322.10 448.60 L321.50 448.60 L320.90 448.60 L320.30 448.60 L319.70 448.60 L319.10 448.60 L318.50 448.60 L317.90 448.60 L317.90 448.60M307.70 448.60 L307.10 448.60 L306.50 448.60 L305.90 448.60 L305.30 448.60 L304.70 448.60 L304.10 448.60 L303.50 448.60 L302.90 448.60 L302.30 448.60 L301.70 448.60 L301.10 448.60 L300.50 448.60 L299.90 448.60 L299.90 448.60M289.70 448.60 L289.10 448.60 L288.50 448.60 L287.90 448.60 L287.30 448.60 L286.70 448.60 L286.10 448.60 L285.50 448.60 L284.90 448.60 L284.30 448.60 L283.70 448.60 L283.10 448.60 L282.50 448.60 L281.90 448.60 L281.90 448.60M271.70 448.60 L271.10 448.60 L270.50 448.60 L269.90 448.60 L269.30 448.60 L268.70 448.60 L268.10 448.60 L267.50 448.60 L266.90 448.60 L266.30 448.60 L265.70 448.60 L265.10 448.60 L264.50 448.60 L263.90 448.60 L263.90 448.60M253.70 448.60 L253.10 448.60 L252.50 448.60 L251.90 448.60 L251.30 448.60 L250.70 448.60 L250.10 448.60 L249.50 448.60 L248.90 448.60 L248.30 448.60 L247.70 448.60 L247.10 448.60 L246.50 448.60 L245.90 448.60 L245.90 448.60M235.70 448.60 L235.10 448.60 L234.50 448.60 L233.90 448.60 L233.30 448.60 L232.70 448.60 L232.10 448.60 L231.50 448.60 L230.90 448.60 L230.30 448.60 L229.70 448.60 L229.10 448.60 L228.50 448.60 L227.90 448.60 L227.90 448.60M217.70 448.60 L217.10 448.60 L216.50 448.60 L215.90 448.60 L215.30 448.60 L214.70 448.60 L214.10 448.60 L213.50 448.60 L212.90 448.60 L212.30 448.60 L211.70 448.60 L211.10 448.60 L210.50 448.60 L209.90 448.60 L209.90 448.60M199.70 448.60 L199.10 448.60 L198.50 448.60 L197.90 448.60 L197.30 448.60 L196.70 448.60 L196.10 448.60 L195.50 448.60 L194.90 448.60 L194.30 448.60 L193.70 448.60 L193.10 448.60 L192.50 448.60 L191.90 448.60 L191.90 448.60M181.70 448.60 L181.10 448.60 L180.50 448.60 L179.90 448.60 L179.30 448.60 L178.70 448.60 L178.10 448.60 L177.50 448.60 L176.90 448.60 L176.30 448.60 L175.70 448.60 L175.10 448.60 L174.50 448.60 L173.90 448.60 L173.90 448.60M163.70 448.60 L163.10 448.60 L162.50 448.60 L161.90 448.60 L161.30 448.60 L160.70 448.60 L160.10 448.60 L159.50 448.60 L158.90 448.60 L158.30 448.60 L157.70 448.60 L157.10 448.60 L156.50 448.60 L155.90 448.60 L155.90 448.60M145.70 448.60 L145.10 448.60 L144.50 448.60 L143.90 448.60 L143.30 448.60 L142.70 448.60 L142.10 448.60 L141.50 448.60 L140.90 448.60 L140.30 448.60 L139.70 448.60 L139.10 448.60 L138.50 448.60 L137.90 448.60 L137.90 448.60M127.70 448.60 L127.10 448.60 L126.50 448.60 L125.90 448.60 L125.30 448.60 L124.70 448.60 L124.10 448.60 L123.50 448.60 L122.90 448.60 L122.30 448.60 L121.70 448.60 L121.10 448.60 L120.50 448.60 L119.90 448.60 L119.90 448.60M109.70 448.60 L109.10 448.60 L108.50 448.60 L107.90 448.60 L107.30 448.60 L106.70 448.60 L106.10 448.60 L105.50 448.60 L104.90 448.60 L104.30 448.60 L103.70 448.60 L103.10 448.60 L102.50 448.60 L101.90 448.60 L101.90 448.60M91.70 448.60 L91.10 448.60 L90.36 448.59 L89.62 448.58 L88.89 448.56 L88.17 448.53 L87.46 448.49 L86.76 448.44 L86.07 448.38 L85.38 448.32 L84.71 448.24 L84.04 448.16 L84.04 448.16M74.46 445.58 L73.77 445.26 L73.10 444.93 L72.45 444.58 L71.81 444.22 L71.19 443.84 L70.58 443.45 L69.99 443.04 L69.42 442.62 L68.86 442.18 L68.31 441.72 L67.96 441.41M62.23 433.47 L61.92 432.78 L61.63 432.07 L61.36 431.34 L61.10 430.60 L60.86 429.84 L60.69 429.26 L60.53 428.67 L60.37 428.08 L60.22 427.47 L60.09 426.86 L59.96 426.24 L59.96 426.24M59.10 416.20 L59.10 415.60 L59.10 415.00 L59.10 414.40 L59.10 413.80 L59.10 413.20 L59.10 412.60 L59.10 412.00 L59.10 411.40 L59.10 410.80 L59.10 410.20 L59.10 409.60 L59.10 409.00 L59.10 408.40 L59.10 408.40M59.10 398.19 L59.10 397.59 L59.10 396.99 L59.10 396.39 L59.10 395.79 L59.10 395.19 L59.10 394.59 L59.10 393.99 L59.10 393.39 L59.10 392.79 L59.10 392.19 L59.10 391.59 L59.10 390.99 L59.10 390.39 L59.10 390.39M59.10 380.19 L59.10 379.59 L59.10 378.99 L59.10 378.39 L59.10 377.79 L59.10 377.19 L59.10 376.59 L59.10 375.98 L59.10 375.38 L59.10 374.78 L59.10 374.18 L59.10 373.58 L59.10 372.98 L59.10 372.38 L59.10 372.38M59.10 362.18 L59.10 361.58 L59.10 360.98 L59.10 360.38 L59.10 359.78 L59.10 359.18 L59.10 358.58 L59.10 357.98 L59.10 357.38 L59.10 356.78 L59.10 356.18 L59.10 355.58 L59.10 354.98 L59.10 354.38 L59.10 354.38M59.10 344.17 L59.10 343.57 L59.10 342.97 L59.10 342.37 L59.10 341.77 L59.10 341.17 L59.10 340.57 L59.10 339.97 L59.10 339.37 L59.10 338.77 L59.10 338.17 L59.10 337.57 L59.10 336.97 L59.10 336.37 L59.10 336.37M59.10 326.17 L59.10 325.57 L59.10 324.97 L59.10 324.37 L59.10 323.77 L59.10 323.16 L59.10 322.56 L59.10 321.96 L59.10 321.36 L59.10 320.76 L59.10 320.16 L59.10 319.56 L59.10 318.96 L59.10 318.36 L59.10 318.36M59.10 308.16 L59.10 307.56 L59.10 306.96 L59.10 306.36 L59.10 305.76 L59.10 305.16 L59.10 304.56 L59.10 303.96 L59.10 303.36 L59.10 302.76 L59.10 302.16 L59.10 301.56 L59.10 300.96 L59.10 300.36 L59.10 300.36M59.10 290.15 L59.10 289.55 L59.10 288.95 L59.10 288.35 L59.10 287.75 L59.10 287.15 L59.10 286.55 L59.10 285.95 L59.10 285.35 L59.10 284.75 L59.10 284.15 L59.10 283.55 L59.10 282.95 L59.10 282.35 L59.10 282.35M59.10 272.15 L59.10 271.55 L59.10 270.95 L59.10 270.35 L59.10 269.74 L59.10 269.14 L59.10 268.54 L59.10 267.94 L59.10 267.34 L59.10 266.74 L59.10 266.14 L59.10 265.54 L59.10 264.94 L59.10 264.34 L59.10 264.34M59.10 254.14 L59.10 253.54 L59.10 252.94 L59.10 252.34 L59.10 251.74 L59.10 251.14 L59.10 250.54 L59.10 249.94 L59.10 249.34 L59.10 248.74 L59.10 248.14 L59.10 247.54 L59.10 246.94 L59.10 246.34 L59.10 246.34M59.10 236.13 L59.10 235.53 L59.10 234.93 L59.10 234.33 L59.10 233.73 L59.10 233.13 L59.10 232.53 L59.10 231.93 L59.10 231.33 L59.10 230.73 L59.10 230.13 L59.10 229.53 L59.10 228.93 L59.10 228.33 L59.10 228.33M59.10 218.13 L59.10 217.53 L59.10 216.93 L59.10 216.32 L59.10 215.72 L59.10 215.12 L59.10 214.52 L59.10 213.92 L59.10 213.32 L59.10 212.72 L59.10 212.12 L59.10 211.52 L59.10 210.92 L59.10 210.32 L59.10 210.32M59.10 200.12 L59.10 199.52 L59.10 198.92 L59.10 198.32 L59.10 197.72 L59.10 197.12 L59.10 196.52 L59.10 195.92 L59.10 195.32 L59.10 194.72 L59.10 194.12 L59.10 193.52 L59.10 192.92 L59.10 192.32 L59.10 192.32M59.10 182.11 L59.10 181.51 L59.10 180.91 L59.10 180.31 L59.10 179.71 L59.10 179.11 L59.10 178.51 L59.10 177.91 L59.10 177.31 L59.10 176.71 L59.10 176.11 L59.10 175.51 L59.10 174.91 L59.10 174.31 L59.10 174.31M59.10 164.11 L59.10 163.51 L59.10 162.90 L59.10 162.30 L59.10 161.70 L59.10 161.10 L59.10 160.50 L59.10 159.90 L59.10 159.30 L59.10 158.70 L59.10 158.10 L59.10 157.50 L59.10 156.90 L59.10 156.30 L59.10 156.30M59.18 146.53 L59.23 145.82 L59.28 145.13 L59.34 144.44 L59.41 143.76 L59.48 143.08 L59.57 142.42 L59.67 141.77 L59.77 141.12 L59.88 140.48 L60.00 139.85 L60.05 139.65M63.23 130.83 L63.60 130.20 L63.98 129.58 L64.38 128.98 L64.80 128.40 L65.22 127.83 L65.67 127.27 L66.13 126.73 L66.61 126.21 L67.10 125.70 L67.44 125.37M75.16 120.42 L75.87 120.14 L76.61 119.87 L77.35 119.62 L78.05 119.40 L78.63 119.23 L79.22 119.07 L79.82 118.92 L80.43 118.78 L81.05 118.65 L81.67 118.52 L81.88 118.48" fill="none" stroke="#2c9441" stroke-width="2.5" stroke-linecap="round" stroke-linejoin="round"/>
<path d="M12.1 17 L479.1 17 L479.1 550.1 L12.1 550.1 Z" fill="none" stroke="#121212" stroke-width="2.1" stroke-linejoin="round"/>
<g fill="none" stroke="#1e1e1e" stroke-width="1.6" stroke-linecap="round" stroke-linejoin="round">
<path d="M495 195.1 Q420 196.8 349.8 194.5"/><path d="M379.3 185.4 Q362 190.5 349.8 194.5 Q363 200.5 379.3 206"/>
<path d="M492 403.2 Q440 405 383.1 405.2"/><path d="M412.3 394.3 Q397 399 383.1 405.2 Q397 410 412 414.7"/>
<path d="M493.6 488.7 Q450 489.8 400.1 490.4"/><path d="M427.5 478.9 Q413 484 400.1 490.4 Q413 495 428.4 499.4"/>
</g>
<g fill="none" stroke="#1e1e1e" stroke-width="2.2" stroke-linecap="round" stroke-linejoin="round">
<path d="M172.10 47.00 Q179.00 45.70 186.20 45.10 M179.50 45.90 Q179.59 51.30 179.69 56.70 M190.68 43.80 Q190.87 50.30 190.96 56.30 M190.49 44.00 Q195.93 42.80 198.13 45.50 Q198.61 48.80 191.35 49.80 M193.07 49.80 Q195.93 53.10 198.80 56.30 M202.80 56.30 Q206.96 49.80 211.31 42.80 Q211.50 49.80 211.68 56.30 M205.76 53.70 Q209.74 53.30 213.16 53.10 M217.30 56.80 Q218.18 51.30 219.17 45.60 Q221.15 50.80 222.70 55.80 Q224.79 49.30 227.10 43.10 M240.40 44.50 Q236.68 42.80 233.42 44.80 Q230.63 46.80 232.50 48.50 Q235.75 49.90 238.54 51.50 Q240.87 53.80 238.54 55.50 Q234.82 56.80 231.10 54.30 M243.80 56.30 Q246.84 49.80 250.01 42.80 Q250.14 49.80 250.28 56.30 M245.96 53.70 Q248.86 53.30 251.36 53.10 M262.80 45.50 Q259.58 43.30 257.14 44.80 Q254.70 47.30 254.90 50.80 Q255.29 56.30 259.09 56.30 Q261.53 56.30 263.00 54.80 M265.00 47.00 Q271.27 45.70 277.80 45.10 M271.71 45.90 Q271.80 51.30 271.89 56.70 M282.40 44.80 Q286.30 44.50 289.90 44.30 M286.20 44.60 L286.30 56.30 M282.40 56.30 Q286.30 56.10 289.90 56.00 M300.00 44.30 Q305.60 44.30 305.60 50.10 Q305.60 55.80 300.00 55.80 Q294.50 55.80 294.50 50.10 Q294.50 44.30 300.00 44.30 M310.10 56.80 Q310.88 51.30 311.76 45.60 Q313.52 50.80 314.89 55.80 Q316.75 49.30 318.80 43.10 M127.10 168.50 Q123.06 166.80 119.52 168.80 Q116.50 170.80 118.52 172.50 Q122.05 173.90 125.08 175.50 Q127.60 177.80 125.08 179.50 Q121.04 180.80 117.00 178.30 M135.72 174.00 Q133.91 172.80 132.28 174.10 Q130.93 176.30 131.47 178.50 Q132.28 180.50 134.36 180.30 Q135.27 180.30 136.17 179.70 M140.00 174.80 Q139.93 177.80 139.86 180.40 M139.93 176.80 Q140.70 173.10 142.31 173.10 Q143.50 173.30 144.20 174.80 M148.85 173.80 Q148.75 177.30 148.85 180.30 M148.75 169.30 L148.95 169.50 M152.59 173.50 Q153.08 180.30 153.76 187.30 M152.79 174.80 Q155.22 172.80 157.95 173.30 Q160.09 174.30 159.61 176.80 Q159.12 179.80 156.20 180.10 Q154.25 180.30 153.08 179.30 M166.70 168.00 Q166.51 175.30 166.80 178.80 Q167.38 180.60 169.60 180.00 M163.81 172.00 L169.60 171.50 M117.10 205.30 Q121.60 198.80 126.30 191.80 Q126.50 198.80 126.70 205.30 M120.30 202.70 Q124.60 202.30 128.30 202.10 M132.10 199.80 Q132.03 202.80 131.96 205.40 M132.03 201.80 Q132.78 198.10 134.35 198.10 Q135.52 198.30 136.20 199.80 M145.51 199.50 Q143.54 198.00 141.07 198.80 Q139.10 200.00 139.40 202.50 Q140.09 205.00 142.55 204.80 Q145.02 204.30 145.81 201.80 M146.01 198.50 Q146.30 204.30 145.81 208.30 Q145.32 211.80 142.26 211.80 Q140.38 211.80 139.40 210.50 M150.49 198.50 Q150.30 201.80 150.87 203.50 Q151.71 205.30 153.69 205.30 Q155.76 205.00 156.42 202.50 M156.52 198.50 Q156.61 201.80 156.80 205.30 M160.70 198.50 Q160.90 201.80 161.00 205.30 M161.00 200.80 Q162.51 198.30 164.73 198.30 Q167.35 198.30 167.35 201.10 L167.45 205.30 M167.45 200.80 Q169.06 198.30 171.38 198.30 Q174.10 198.30 174.10 201.10 L174.20 205.30 M177.58 202.10 Q180.94 202.50 183.63 201.00 Q184.11 198.30 181.13 198.10 Q177.58 198.30 177.29 201.90 Q177.39 205.30 180.94 205.30 Q182.86 205.30 184.40 204.30 M188.49 198.50 Q188.68 201.80 188.87 205.30 M188.87 200.80 Q190.60 198.30 192.52 198.30 Q195.31 198.30 195.31 201.50 L195.50 205.30 M200.87 193.00 Q200.70 200.30 200.95 203.80 Q201.46 205.60 203.40 205.00 M198.33 197.00 L203.40 196.50 M211.92 199.10 Q209.89 197.80 207.87 198.50 Q205.94 199.80 208.05 201.30 Q212.10 202.50 212.10 203.90 Q211.46 205.60 208.97 205.30 Q207.14 205.10 206.40 204.30 M117.85 217.80 Q118.07 224.30 118.18 230.30 M117.63 218.00 Q123.90 216.80 126.43 219.50 Q126.98 222.80 118.62 223.80 M120.60 223.80 Q123.90 227.10 127.20 230.30 M131.55 227.10 Q134.73 227.50 137.27 226.00 Q137.73 223.30 134.91 223.10 Q131.55 223.30 131.28 226.90 Q131.37 230.30 134.73 230.30 Q136.55 230.30 138.00 229.30 M147.71 215.30 Q145.73 213.80 144.35 215.30 Q143.56 217.30 143.66 223.30 L143.76 230.30 M140.80 223.30 L147.71 222.80 M152.19 227.10 Q155.59 227.50 158.32 226.00 Q158.81 223.30 155.79 223.10 Q152.19 223.30 151.89 226.90 Q151.99 230.30 155.59 230.30 Q157.54 230.30 159.10 229.30 M163.10 224.80 Q163.03 227.80 162.95 230.40 M163.03 226.80 Q163.83 223.10 165.52 223.10 Q166.77 223.30 167.50 224.80 M171.39 227.10 Q174.85 227.50 177.61 226.00 Q178.10 223.30 175.04 223.10 Q171.39 223.30 171.10 226.90 Q171.20 230.30 174.85 230.30 Q176.82 230.30 178.40 229.30 M182.67 223.50 Q182.85 226.80 183.03 230.30 M183.03 225.80 Q184.64 223.30 186.43 223.30 Q189.02 223.30 189.02 226.50 L189.20 230.30 M198.24 224.00 Q195.62 222.80 193.27 224.10 Q191.31 226.30 192.09 228.50 Q193.27 230.50 196.28 230.30 Q197.58 230.30 198.89 229.70 M202.53 227.10 Q206.21 227.50 209.16 226.00 Q209.68 223.30 206.42 223.10 Q202.53 223.30 202.21 226.90 Q202.32 230.30 206.21 230.30 Q208.32 230.30 210.00 229.30 M223.00 217.30 Q222.80 223.80 223.00 230.30 M222.70 217.30 Q230.42 216.30 230.91 220.30 Q230.42 223.30 223.49 223.30 Q232.40 223.30 232.40 226.80 Q231.91 230.30 223.00 230.10 M238.00 214.30 Q238.10 222.30 238.20 230.30 M246.39 223.30 Q249.70 223.30 249.70 226.80 Q249.70 230.30 246.39 230.30 Q243.00 230.30 243.00 226.80 Q243.00 223.30 246.39 223.30 M258.51 224.00 Q256.63 222.80 254.93 224.10 Q253.52 226.30 254.08 228.50 Q254.93 230.50 257.10 230.30 Q258.04 230.30 258.98 229.70 M263.37 214.30 Q263.56 222.30 263.65 230.30 M268.94 223.30 Q266.39 225.30 263.93 227.30 Q266.86 229.00 269.60 230.30 M124.84 243.30 Q118.98 246.30 117.20 250.30 Q116.76 254.80 120.31 255.10 Q122.53 255.30 123.42 253.30 M119.86 249.50 Q124.30 248.80 127.41 250.00 Q127.68 253.30 127.32 256.80 M140.33 249.80 Q137.43 248.00 133.80 248.80 Q130.61 250.00 131.34 252.70 Q132.35 255.30 136.41 255.10 Q140.33 254.80 141.35 251.80 M141.35 248.50 Q141.49 251.80 142.80 255.30 M153.78 249.10 Q151.33 247.80 148.88 248.50 Q146.54 249.80 149.10 251.30 Q154.00 252.50 154.00 253.90 Q153.22 255.60 150.22 255.30 Q147.99 255.10 147.10 254.30 M170.14 243.00 Q168.19 249.30 167.12 255.00 Q171.73 255.60 176.70 255.30 M180.00 248.80 Q179.90 252.30 180.00 255.30 M179.90 244.30 L180.10 244.50 M183.64 248.50 Q183.78 251.80 183.85 255.30 M183.85 250.80 Q184.88 248.30 186.40 248.30 Q188.20 248.30 188.20 251.10 L188.27 255.30 M188.27 250.80 Q189.38 248.30 190.96 248.30 Q192.83 248.30 192.83 251.10 L192.90 255.30 M197.00 248.80 Q196.90 252.30 197.00 255.30 M196.90 244.30 L197.10 244.50 M204.15 243.00 Q203.86 250.30 204.30 253.80 Q205.19 255.60 208.60 255.00 M199.70 247.00 L208.60 246.50 M117.41 267.50 Q117.20 274.00 117.10 280.50 M117.20 267.20 Q124.47 267.50 127.90 270.50 Q127.07 274.50 118.24 275.50 M130.50 274.50 Q130.41 277.50 130.32 280.10 M130.41 276.50 Q131.38 272.80 133.41 272.80 Q134.92 273.00 135.80 274.50 M142.50 273.00 Q146.50 273.00 146.50 276.50 Q146.50 280.00 142.50 280.00 Q138.40 280.00 138.40 276.50 Q138.40 273.00 142.50 273.00 M149.90 273.20 Q150.39 280.00 151.08 287.00 M150.09 274.50 Q152.56 272.50 155.33 273.00 Q157.50 274.00 157.00 276.50 Q156.51 279.50 153.55 279.80 Q151.57 280.00 150.39 279.00 M163.96 273.00 Q168.40 273.00 168.40 276.50 Q168.40 280.00 163.96 280.00 Q159.40 280.00 159.40 276.50 Q159.40 273.00 163.96 273.00 M178.88 273.80 Q176.43 272.50 173.98 273.20 Q171.64 274.50 174.20 276.00 Q179.10 277.20 179.10 278.60 Q178.32 280.30 175.32 280.00 Q173.09 279.80 172.20 279.00 M190.13 274.50 Q187.94 272.70 185.20 273.50 Q182.78 274.70 183.33 277.40 Q184.10 280.00 187.17 279.80 Q190.13 279.50 190.90 276.50 M190.90 273.20 Q191.01 276.50 192.00 280.00 M197.00 264.00 Q197.10 272.00 197.20 280.00 M211.37 269.30 Q211.18 275.00 211.00 280.00 M219.50 268.40 Q215.62 273.00 212.39 276.20 Q215.16 278.50 217.93 280.50 M224.10 276.80 Q226.91 277.20 229.16 275.70 Q229.56 273.00 227.07 272.80 Q224.10 273.00 223.86 276.60 Q223.94 280.00 226.91 280.00 Q228.52 280.00 229.80 279.00 M234.68 273.50 Q235.20 278.00 238.20 277.80 M241.10 273.20 Q239.60 280.00 237.84 287.80 M117.20 305.30 Q121.44 298.80 125.86 291.80 Q126.05 298.80 126.24 305.30 M120.21 302.70 Q124.26 302.30 127.75 302.10 M131.80 298.50 Q131.60 301.80 132.20 303.50 Q133.10 305.30 135.20 305.30 Q137.40 305.00 138.10 302.50 M138.20 298.50 Q138.30 301.80 138.50 305.30 M144.35 293.00 Q144.06 300.30 144.50 303.80 Q145.39 305.60 148.80 305.00 M139.90 297.00 L148.80 296.50 M153.34 289.30 Q153.45 297.30 153.66 305.30 M153.66 300.80 Q155.50 298.30 157.66 298.30 Q160.78 298.30 160.78 301.50 L161.00 305.30 M167.70 298.30 Q171.60 298.30 171.60 301.80 Q171.60 305.30 167.70 305.30 Q163.70 305.30 163.70 301.80 Q163.70 298.30 167.70 298.30 M174.70 299.80 Q174.61 302.80 174.52 305.40 M174.61 301.80 Q175.62 298.10 177.72 298.10 Q179.28 298.30 180.20 299.80 M183.50 298.80 Q183.40 302.30 183.50 305.30 M183.40 294.30 L183.60 294.50 M187.77 298.50 Q191.70 298.30 195.75 298.40 Q191.70 301.80 187.40 305.10 Q191.70 305.30 196.00 305.10 M199.72 302.10 Q204.10 302.50 207.60 301.00 Q208.22 298.30 204.35 298.10 Q199.72 298.30 199.35 301.90 Q199.47 305.30 204.10 305.30 Q206.60 305.30 208.60 304.30 M211.80 299.80 Q211.73 302.80 211.66 305.40 M211.73 301.80 Q212.48 298.10 214.05 298.10 Q215.22 298.30 215.90 299.80 M225.58 299.10 Q223.17 297.80 220.75 298.50 Q218.45 299.80 220.97 301.30 Q225.80 302.50 225.80 303.90 Q225.03 305.60 222.07 305.30 Q219.88 305.10 219.00 304.30 M117.69 317.40 Q117.50 323.90 117.40 330.40 M117.50 317.10 Q124.30 317.40 127.50 320.40 Q126.72 324.40 118.47 325.40 M138.31 324.40 Q135.97 322.60 133.04 323.40 Q130.47 324.60 131.05 327.30 Q131.87 329.90 135.15 329.70 Q138.31 329.40 139.13 326.40 M139.13 323.10 Q139.25 326.40 140.30 329.90 M142.73 323.40 Q143.41 327.90 147.26 327.70 M151.00 323.10 Q149.07 329.90 146.81 337.70 M154.77 326.70 Q158.73 327.10 161.89 325.60 Q162.46 322.90 158.95 322.70 Q154.77 322.90 154.43 326.50 Q154.54 329.90 158.73 329.90 Q160.99 329.90 162.80 328.90 M165.00 324.40 Q164.91 327.40 164.81 330.00 M164.91 326.40 Q165.93 322.70 168.08 322.70 Q169.67 322.90 170.60 324.40 M507.81 187.70 Q507.60 194.20 507.50 200.70 M507.60 187.40 Q514.80 187.70 518.20 190.70 Q517.38 194.70 508.63 195.70 M527.90 194.70 Q525.77 192.90 523.12 193.70 Q520.79 194.90 521.32 197.60 Q522.06 200.20 525.03 200.00 Q527.90 199.70 528.64 196.70 M528.64 193.40 Q528.75 196.70 529.70 200.20 M532.72 193.70 Q533.36 198.20 537.04 198.00 M540.60 193.40 Q538.76 200.20 536.60 208.00 M544.60 184.20 Q544.70 192.20 544.80 200.20 M553.31 193.20 Q557.90 193.20 557.90 196.70 Q557.90 200.20 553.31 200.20 Q548.60 200.20 548.60 196.70 Q548.60 193.20 553.31 193.20 M568.77 194.70 Q566.50 192.90 563.67 193.70 Q561.17 194.90 561.74 197.60 Q562.53 200.20 565.71 200.00 Q568.77 199.70 569.57 196.70 M569.57 193.40 Q569.68 196.70 570.70 200.20 M580.08 195.20 Q578.06 192.90 575.52 193.70 Q573.30 194.90 573.80 197.60 Q574.51 200.20 577.35 200.00 Q580.08 199.70 580.79 197.20 M581.20 184.20 Q581.30 192.20 581.60 200.20 M507.30 396.20 Q512.02 389.70 516.96 382.70 Q517.17 389.70 517.38 396.20 M510.66 393.60 Q515.18 393.20 519.06 393.00 M522.83 389.40 Q522.60 392.70 523.28 394.40 Q524.30 396.20 526.67 396.20 Q529.16 395.90 529.95 393.40 M530.06 389.40 Q530.17 392.70 530.40 396.20 M536.66 383.90 Q536.37 391.20 536.80 394.70 Q537.67 396.50 541.00 395.90 M532.31 387.90 L541.00 387.40 M544.82 380.20 Q544.94 388.20 545.19 396.20 M545.19 391.70 Q547.29 389.20 549.77 389.20 Q553.35 389.20 553.35 392.40 L553.60 396.20 M560.30 389.20 Q564.20 389.20 564.20 392.70 Q564.20 396.20 560.30 396.20 Q556.30 396.20 556.30 392.70 Q556.30 389.20 560.30 389.20 M566.40 390.70 Q566.33 393.70 566.27 396.30 M566.33 392.70 Q567.07 389.00 568.60 389.00 Q569.73 389.20 570.40 390.70 M573.40 389.70 Q573.30 393.20 573.40 396.20 M573.30 385.20 L573.50 385.40 M576.88 389.40 Q580.90 389.20 585.05 389.30 Q580.90 392.70 576.50 396.00 Q580.90 396.20 585.30 396.00 M596.15 390.70 Q593.98 388.90 591.27 389.70 Q588.88 390.90 589.43 393.60 Q590.19 396.20 593.22 396.00 Q596.15 395.70 596.91 392.70 M596.91 389.40 Q597.02 392.70 598.00 396.20 M604.24 383.90 Q603.91 391.20 604.40 394.70 Q605.37 396.50 609.10 395.90 M599.38 387.90 L609.10 387.40 M612.95 389.70 Q612.85 393.20 612.95 396.20 M612.85 385.20 L613.05 385.40 M621.56 389.20 Q625.90 389.20 625.90 392.70 Q625.90 396.20 621.56 396.20 Q617.10 396.20 617.10 392.70 Q617.10 389.20 621.56 389.20 M629.41 389.40 Q629.54 392.70 629.68 396.20 M629.68 391.70 Q630.91 389.20 632.28 389.20 Q634.26 389.20 634.26 392.40 L634.40 396.20 M507.80 410.80 Q512.70 410.00 517.02 409.90 Q517.41 410.50 517.21 411.50 M507.80 410.80 Q507.60 416.00 507.80 421.00 M509.07 415.70 Q513.68 415.00 517.51 414.80 M507.80 421.00 Q512.70 420.20 517.51 420.00 M521.66 415.20 Q521.83 418.50 522.01 422.00 M522.01 417.50 Q523.57 415.00 525.31 415.00 Q527.83 415.00 527.83 418.20 L528.00 422.00 M530.90 415.20 Q532.95 418.60 534.80 422.00 Q536.54 418.60 538.90 415.00 M542.18 418.80 Q545.54 419.20 548.23 417.70 Q548.71 415.00 545.73 414.80 Q542.18 415.00 541.89 418.60 Q541.99 422.00 545.54 422.00 Q547.46 422.00 549.00 421.00 M553.50 406.00 Q553.60 414.00 553.70 422.00 M561.00 415.00 Q564.60 415.00 564.60 418.50 Q564.60 422.00 561.00 422.00 Q557.30 422.00 557.30 418.50 Q557.30 415.00 561.00 415.00 M568.50 415.20 Q569.01 422.00 569.72 429.00 M568.71 416.50 Q571.24 414.50 574.07 415.00 Q576.30 416.00 575.80 418.50 Q575.29 421.50 572.25 421.80 Q570.23 422.00 569.01 421.00 M579.53 418.80 Q583.21 419.20 586.16 417.70 Q586.68 415.00 583.42 414.80 Q579.53 415.00 579.21 418.60 Q579.32 422.00 583.21 422.00 Q585.32 422.00 587.00 421.00 M507.98 469.70 Q507.80 476.20 507.71 482.70 M507.80 469.40 Q514.19 469.70 517.20 472.70 Q516.47 476.70 508.71 477.70 M527.93 476.70 Q525.49 474.90 522.44 475.70 Q519.76 476.90 520.37 479.60 Q521.22 482.20 524.63 482.00 Q527.93 481.70 528.78 478.70 M528.78 475.40 Q528.90 478.70 530.00 482.20 M532.45 475.70 Q533.20 480.20 537.46 480.00 M541.60 475.40 Q539.47 482.20 536.96 490.00 M543.99 475.40 Q544.17 478.70 544.27 482.20 M544.27 477.70 Q545.67 475.20 547.72 475.20 Q550.15 475.20 550.15 478.00 L550.24 482.20 M550.24 477.70 Q551.74 475.20 553.89 475.20 Q556.41 475.20 556.41 478.00 L556.50 482.20 M559.27 479.00 Q563.23 479.40 566.39 477.90 Q566.96 475.20 563.45 475.00 Q559.27 475.20 558.93 478.80 Q559.04 482.20 563.23 482.20 Q565.49 482.20 567.30 481.20 M569.71 475.40 Q569.85 478.70 569.99 482.20 M569.99 477.70 Q571.24 475.20 572.64 475.20 Q574.66 475.20 574.66 478.40 L574.80 482.20 M580.19 469.90 Q579.96 477.20 580.30 480.70 Q580.98 482.50 583.60 481.90 M576.77 473.90 L583.60 473.40 M507.80 497.10 Q512.70 496.30 517.02 496.20 Q517.41 496.80 517.21 497.80 M507.80 497.10 Q507.60 502.30 507.80 507.30 M509.07 502.00 Q513.68 501.30 517.51 501.10 M507.80 507.30 Q512.70 506.50 517.51 506.30 M521.66 501.50 Q521.83 504.80 522.01 508.30 M522.01 503.80 Q523.57 501.30 525.31 501.30 Q527.83 501.30 527.83 504.50 L528.00 508.30 M530.90 501.50 Q532.95 504.90 534.80 508.30 Q536.54 504.90 538.90 501.30 M542.18 505.10 Q545.54 505.50 548.23 504.00 Q548.71 501.30 545.73 501.10 Q542.18 501.30 541.89 504.90 Q541.99 508.30 545.54 508.30 Q547.46 508.30 549.00 507.30 M553.50 492.30 Q553.60 500.30 553.70 508.30 M561.00 501.30 Q564.60 501.30 564.60 504.80 Q564.60 508.30 561.00 508.30 Q557.30 508.30 557.30 504.80 Q557.30 501.30 561.00 501.30 M568.50 501.50 Q569.01 508.30 569.72 515.30 M568.71 502.80 Q571.24 500.80 574.07 501.30 Q576.30 502.30 575.80 504.80 Q575.29 507.80 572.25 508.10 Q570.23 508.30 569.01 507.30 M579.53 505.10 Q583.21 505.50 586.16 504.00 Q586.68 501.30 583.42 501.10 Q579.53 501.30 579.21 504.90 Q579.32 508.30 583.21 508.30 Q585.32 508.30 587.00 507.30 "/>
</g>
<path d="M93.09 413.50 Q92.90 420.00 92.80 426.50 M92.90 413.20 Q99.56 413.50 102.70 416.50 Q101.94 420.50 93.85 421.50 M113.47 420.50 Q111.08 418.70 108.09 419.50 Q105.46 420.70 106.06 423.40 Q106.90 426.00 110.24 425.80 Q113.47 425.50 114.30 422.50 M114.30 419.20 Q114.42 422.50 115.50 426.00 M118.74 419.50 Q119.47 424.00 123.60 423.80 M127.60 419.20 Q125.54 426.00 123.11 433.80 M131.70 410.00 Q131.80 418.00 131.90 426.00 M140.02 419.00 Q144.90 419.00 144.90 422.50 Q144.90 426.00 140.02 426.00 Q135.00 426.00 135.00 422.50 Q135.00 419.00 140.02 419.00 M155.65 420.50 Q153.23 418.70 150.21 419.50 Q147.56 420.70 148.16 423.40 Q149.01 426.00 152.39 425.80 Q155.65 425.50 156.49 422.50 M156.49 419.20 Q156.61 422.50 157.70 426.00 M165.56 421.00 Q164.03 418.70 162.12 419.50 Q160.45 420.70 160.83 423.40 Q161.36 426.00 163.50 425.80 Q165.56 425.50 166.09 423.00 M166.40 410.00 Q166.47 418.00 166.70 426.00 M188.40 414.20 Q184.84 412.50 181.72 414.50 Q179.06 416.50 180.84 418.20 Q183.95 419.60 186.62 421.20 Q188.84 423.50 186.62 425.20 Q183.06 426.50 179.50 424.00 M192.65 419.50 Q192.55 423.00 192.65 426.00 M192.55 415.00 L192.75 415.20 M205.18 420.20 Q202.54 418.70 199.24 419.50 Q196.60 420.70 197.00 423.20 Q197.92 425.70 201.22 425.50 Q204.52 425.00 205.58 422.50 M205.84 419.20 Q206.24 425.00 205.58 429.00 Q204.92 432.50 200.82 432.50 Q198.32 432.50 197.00 431.20 M210.47 419.20 Q210.65 422.50 210.83 426.00 M210.83 421.50 Q212.44 419.00 214.23 419.00 Q216.82 419.00 216.82 422.20 L217.00 426.00 M227.21 420.50 Q224.99 418.70 222.22 419.50 Q219.78 420.70 220.33 423.40 Q221.11 426.00 224.22 425.80 Q227.21 425.50 227.99 422.50 M227.99 419.20 Q228.10 422.50 229.10 426.00 M234.58 413.70 Q234.35 421.00 234.70 424.50 Q235.40 426.30 238.10 425.70 M231.07 417.70 L238.10 417.20 M242.00 419.20 Q241.80 422.50 242.40 424.20 Q243.30 426.00 245.40 426.00 Q247.60 425.70 248.30 423.20 M248.40 419.20 Q248.50 422.50 248.70 426.00 M252.40 420.50 Q252.31 423.50 252.22 426.10 M252.31 422.50 Q253.28 418.80 255.31 418.80 Q256.82 419.00 257.70 420.50 M261.10 422.80 Q264.60 423.20 267.40 421.70 Q267.90 419.00 264.80 418.80 Q261.10 419.00 260.80 422.60 Q260.90 426.00 264.60 426.00 Q266.60 426.00 268.20 425.00 M277.78 419.80 Q275.37 418.50 272.95 419.20 Q270.65 420.50 273.17 422.00 Q278.00 423.20 278.00 424.60 Q277.23 426.30 274.27 426.00 Q272.08 425.80 271.20 425.00 " fill="none" stroke="#2c9441" stroke-width="2.2" stroke-linecap="round" stroke-linejoin="round"/>
<path d="M89.10 487.30 Q93.95 486.50 98.22 486.40 Q98.61 487.00 98.42 488.00 M89.10 487.30 Q88.91 492.50 89.10 497.50 M90.36 492.20 Q94.92 491.50 98.71 491.30 M89.10 497.50 Q93.95 496.70 98.71 496.50 M102.17 491.70 Q102.35 495.00 102.53 498.50 M102.53 494.00 Q104.14 491.50 105.93 491.50 Q108.52 491.50 108.52 494.70 L108.70 498.50 M111.70 491.70 Q113.65 495.10 115.40 498.50 Q117.06 495.10 119.30 491.50 M122.00 495.30 Q125.50 495.70 128.30 494.20 Q128.80 491.50 125.70 491.30 Q122.00 491.50 121.70 495.10 Q121.80 498.50 125.50 498.50 Q127.50 498.50 129.10 497.50 M133.20 482.50 Q133.30 490.50 133.40 498.50 M140.75 491.50 Q144.10 491.50 144.10 495.00 Q144.10 498.50 140.75 498.50 Q137.30 498.50 137.30 495.00 Q137.30 491.50 140.75 491.50 M148.07 491.70 Q148.51 498.50 149.13 505.50 M148.24 493.00 Q150.45 491.00 152.93 491.50 Q154.88 492.50 154.43 495.00 Q153.99 498.00 151.34 498.30 Q149.57 498.50 148.51 497.50 M159.00 495.30 Q163.19 495.70 166.54 494.20 Q167.14 491.50 163.43 491.30 Q159.00 491.50 158.64 495.10 Q158.76 498.50 163.19 498.50 Q165.58 498.50 167.50 497.50 M189.20 486.70 Q185.60 485.00 182.45 487.00 Q179.75 489.00 181.55 490.70 Q184.70 492.10 187.40 493.70 Q189.65 496.00 187.40 497.70 Q183.80 499.00 180.20 496.50 M192.65 492.00 Q192.55 495.50 192.65 498.50 M192.55 487.50 L192.75 487.70 M204.50 492.70 Q202.10 491.20 199.10 492.00 Q196.70 493.20 197.06 495.70 Q197.90 498.20 200.90 498.00 Q203.90 497.50 204.86 495.00 M205.10 491.70 Q205.46 497.50 204.86 501.50 Q204.26 505.00 200.54 505.00 Q198.26 505.00 197.06 503.70 M209.80 491.70 Q209.99 495.00 210.19 498.50 M210.19 494.00 Q211.97 491.50 213.94 491.50 Q216.80 491.50 216.80 494.70 L217.00 498.50 M227.21 493.00 Q224.99 491.20 222.22 492.00 Q219.78 493.20 220.33 495.90 Q221.11 498.50 224.22 498.30 Q227.21 498.00 227.99 495.00 M227.99 491.70 Q228.10 495.00 229.10 498.50 M234.97 486.20 Q234.71 493.50 235.10 497.00 Q235.89 498.80 238.90 498.20 M231.04 490.20 L238.90 489.70 M242.80 491.70 Q242.60 495.00 243.19 496.70 Q244.08 498.50 246.15 498.50 Q248.32 498.20 249.01 495.70 M249.10 491.70 Q249.20 495.00 249.40 498.50 M253.10 493.00 Q253.00 496.00 252.90 498.60 M253.00 495.00 Q254.12 491.30 256.45 491.30 Q258.18 491.50 259.20 493.00 M262.61 495.30 Q266.15 495.70 268.99 494.20 Q269.50 491.50 266.36 491.30 Q262.61 491.50 262.30 495.10 Q262.40 498.50 266.15 498.50 Q268.18 498.50 269.80 497.50 M279.28 492.30 Q276.87 491.00 274.45 491.70 Q272.15 493.00 274.67 494.50 Q279.50 495.70 279.50 497.10 Q278.73 498.80 275.77 498.50 Q273.58 498.30 272.70 497.50 " fill="none" stroke="#eb8000" stroke-width="2.2" stroke-linecap="round" stroke-linejoin="round"/>
</svg>
</body></html>
